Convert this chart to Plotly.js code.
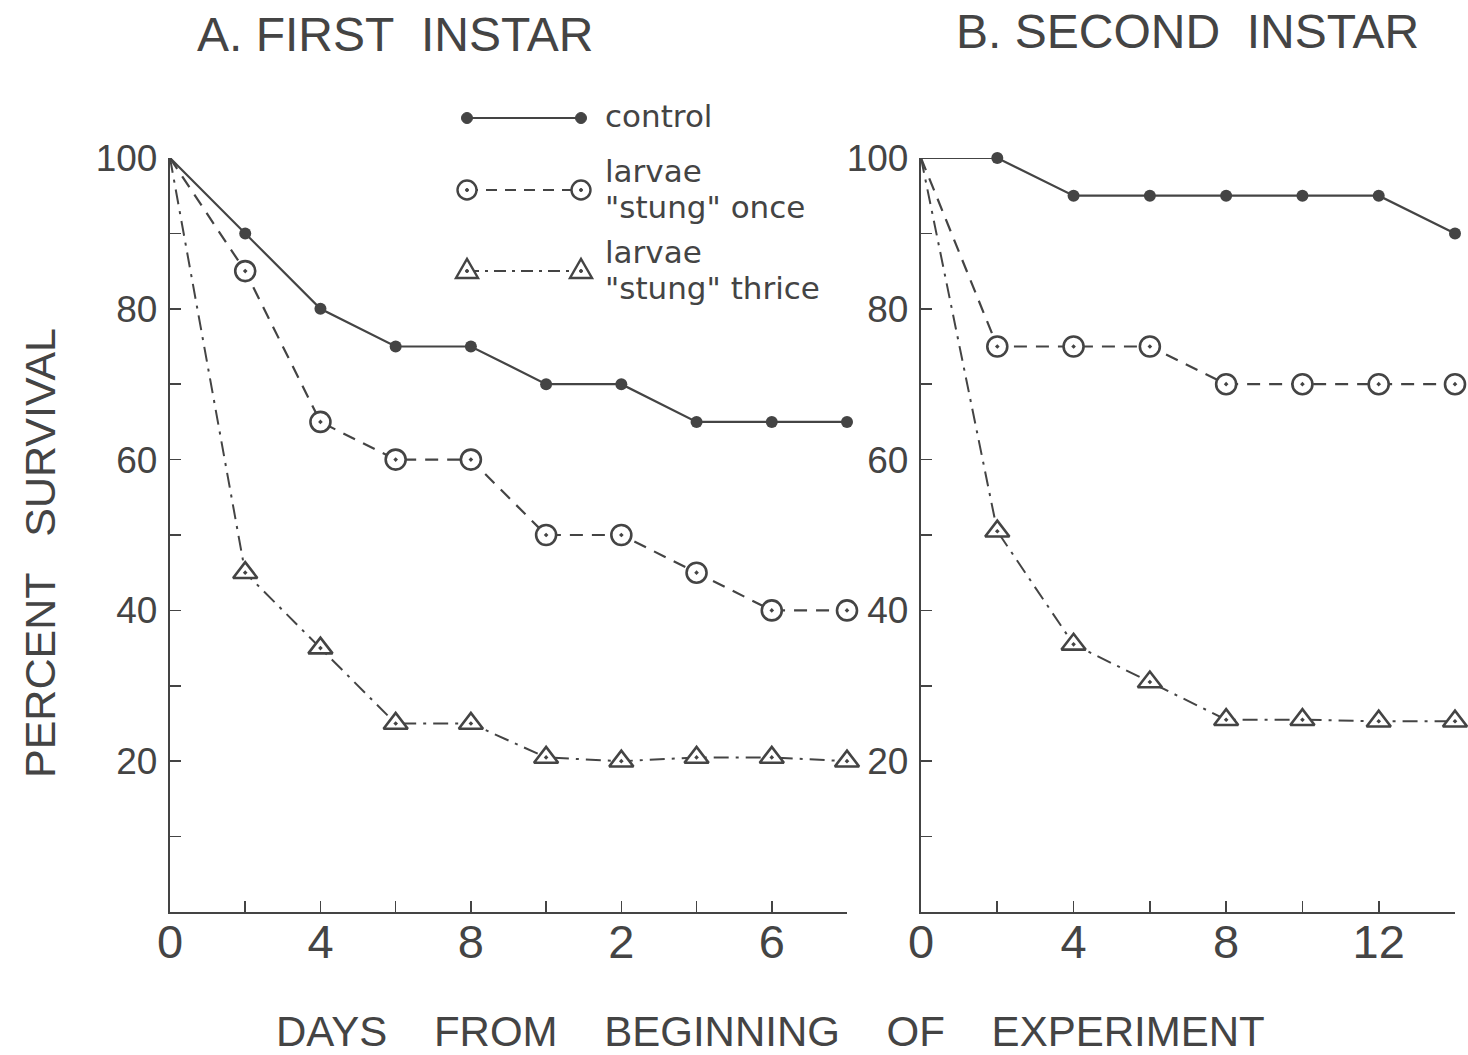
<!DOCTYPE html>
<html><head><meta charset="utf-8">
<script src="https://cdn.plot.ly/plotly-3.0.1.min.js"></script>
<style>html,body{margin:0;padding:0;background:#fff}#chart{width:1468px;height:1055px}</style>
</head><body><div id="chart"></div>
<script>
// ---- data ----
const daysA = [0, 2, 4, 6, 8, 10, 12, 14, 16, 18];
const controlA = [100, 90, 80, 75, 75, 70, 70, 65, 65, 65];
const onceA = [100, 85, 65, 60, 60, 50, 50, 45, 40, 40];
const thriceA = [100, 45, 35, 25, 25, 20.5, 20, 20.5, 20.5, 20];

const daysB = [0, 2, 4, 6, 8, 10, 12, 14];
const controlB = [100, 100, 95, 95, 95, 95, 95, 90];
const onceB = [100, 75, 75, 75, 70, 70, 70, 70];
const thriceB = [100, 50.5, 35.5, 30.5, 25.5, 25.5, 25.3, 25.3];

const xTickTextA = ['0', '', '4', '', '8', '', '2', '', '6', ''];
const xTickTextB = ['0', '', '4', '', '8', '', '12', ''];
const yTickVals = [0, 10, 20, 30, 40, 50, 60, 70, 80, 90, 100];
const yTickText = ['', '', '20', '', '40', '', '60', '', '80', '', '100'];

const seriesNames = ['control', 'larvae<br>"stung" once', 'larvae<br>"stung" thrice'];
const panelTitles = ['A. FIRST\u00a0\u00a0INSTAR', 'B. SECOND\u00a0\u00a0INSTAR'];
const xTitle = 'DAYS\u00a0\u00a0\u00a0\u00a0FROM\u00a0\u00a0\u00a0\u00a0BEGINNING\u00a0\u00a0\u00a0\u00a0OF\u00a0\u00a0\u00a0\u00a0EXPERIMENT';
const yTitle = 'PERCENT\u00a0\u00a0\u00a0SURVIVAL';

// ---- style ----
const INK = '#444444';
const FONT = 'Liberation Sans, Arial, sans-serif';
const LEGFONT = 'DejaVu Sans, Liberation Sans, sans-serif';
const W = 1468, H = 1055;
const px = v => v / W, py = v => 1 - v / H;

const lineStyles = [
  {color: INK, width: 2.2},
  {color: INK, width: 2.2, dash: '13px,9px'},
  {color: INK, width: 2, dash: '15px,7px,3px,7px'}
];
const markerStyles = [
  {symbol: 'circle', size: 12, color: INK, line: {color: INK, width: 0}},
  {symbol: 'circle-dot', size: 20, color: '#fff', line: {color: INK, width: 2.6}},
  {symbol: 'triangle-up-dot', size: 21, color: '#fff', line: {color: INK, width: 2.6}}
];

const traces = [];
[[controlA, onceA, thriceA], [controlB, onceB, thriceB]].forEach((set, p) => {
  const xs = p === 0 ? daysA : daysB;
  const xa = p === 0 ? 'x' : 'x2', ya = p === 0 ? 'y' : 'y2';
  set.forEach((ys, i) => {
    // connecting line through all points
    traces.push({type: 'scatter', mode: 'lines', x: xs, y: ys, name: seriesNames[i], showlegend: false,
      xaxis: xa, yaxis: ya, cliponaxis: false, line: lineStyles[i], hoverinfo: 'skip'});
    // point markers (none drawn at the common origin, as in the original)
    traces.push({type: 'scatter', mode: 'markers', x: xs.slice(1), y: ys.slice(1), name: seriesNames[i], showlegend: false,
      xaxis: xa, yaxis: ya, cliponaxis: false, marker: markerStyles[i], hoverinfo: 'x+y'});
  });
});

function xAxis(domain, maxX, ticktext, anchor) {
  const tickvals = [];
  for (let v = 0; v <= maxX; v += 2) tickvals.push(v);
  return {
    domain: domain, range: [0, maxX], anchor: anchor, tickmode: 'array', tickvals: tickvals, ticktext: ticktext,
    ticks: 'inside', ticklen: 11, tickwidth: 1.6, tickcolor: INK, showline: true, linewidth: 2.2, linecolor: INK,
    showgrid: false, zeroline: false, tickfont: {family: FONT, size: 47, color: INK}, ticklabelstandoff: -13, fixedrange: true
  };
}
function yAxis(anchor) {
  return {
    domain: [py(912), py(158)], range: [0, 100], anchor: anchor, tickmode: 'array', tickvals: yTickVals, ticktext: yTickText,
    ticks: 'inside', ticklen: 11, tickwidth: 1.6, tickcolor: INK, showline: true, linewidth: 2.2, linecolor: INK,
    showgrid: false, zeroline: false, tickfont: {family: FONT, size: 37, color: INK}, ticklabelstandoff: 3, fixedrange: true
  };
}

// legend glyphs (layout shapes in paper/pixel space)
const legendRows = [118, 190, 271];
const legX0 = 467, legX1 = 581;
const shapes = [];
const lineDash = ['solid', '11px,8px', '12px,6px,3px,6px'];
legendRows.forEach((yy, i) => {
  shapes.push({type: 'line', xref: 'paper', yref: 'paper', x0: px(legX0), x1: px(legX1), y0: py(yy), y1: py(yy), line: {color: INK, width: 2.2, dash: lineDash[i]}});
  [legX0, legX1].forEach(xx => {
    const base = {xref: 'paper', yref: 'paper', xsizemode: 'pixel', ysizemode: 'pixel', xanchor: px(xx), yanchor: py(yy)};
    if (i === 0) {
      shapes.push(Object.assign({type: 'circle', x0: -5.5, x1: 5.5, y0: -5.5, y1: 5.5, fillcolor: INK, line: {color: INK, width: 1}}, base));
    } else if (i === 1) {
      shapes.push(Object.assign({type: 'circle', x0: -9.5, x1: 9.5, y0: -9.5, y1: 9.5, fillcolor: '#fff', line: {color: INK, width: 2.4}}, base));
      shapes.push(Object.assign({type: 'circle', x0: -1.5, x1: 1.5, y0: -1.5, y1: 1.5, fillcolor: INK, line: {color: INK, width: 1}}, base));
    } else {
      shapes.push(Object.assign({type: 'path', path: 'M -11 -7 L 11 -7 L 0 12 Z', fillcolor: '#fff', line: {color: INK, width: 2.4}}, base));
      shapes.push(Object.assign({type: 'circle', x0: -1.5, x1: 1.5, y0: -1.5, y1: 1.5, fillcolor: INK, line: {color: INK, width: 1}}, base));
    }
  });
});

const annBase = {xref: 'paper', yref: 'paper', showarrow: false, xanchor: 'center', yanchor: 'middle'};
const annotations = [
  Object.assign({text: panelTitles[0], x: px(395), y: py(34), font: {family: FONT, size: 48, color: INK}}, annBase),
  Object.assign({text: panelTitles[1], x: px(1187), y: py(32), font: {family: FONT, size: 48, color: INK}}, annBase),
  Object.assign({text: xTitle, x: px(770), y: py(1031), font: {family: FONT, size: 42, color: INK}}, annBase),
  Object.assign({text: yTitle, x: px(40), y: py(553), textangle: -90, font: {family: FONT, size: 43, color: INK}}, annBase)
];
seriesNames.forEach((name, i) => {
  const lines = name.split('<br>');
  lines.forEach((ln, k) => {
    const yy = lines.length === 1 ? legendRows[i] - 2 : legendRows[i] - 19 + k * 36;
    annotations.push(Object.assign({}, annBase, {text: ln, x: px(603), y: py(yy), xanchor: 'left', align: 'left',
      font: {family: LEGFONT, size: 31, color: INK}}));
  });
});

const layout = {
  width: W, height: H, margin: {l: 0, r: 0, t: 0, b: 0}, paper_bgcolor: '#fff', plot_bgcolor: 'rgba(0,0,0,0)', showlegend: false,
  xaxis: xAxis([px(170), px(847)], 18, xTickTextA, 'y'),
  yaxis: yAxis('x'),
  xaxis2: xAxis([px(921), px(1455)], 14, xTickTextB, 'y2'),
  yaxis2: yAxis('x2'),
  shapes: shapes, annotations: annotations
};
Plotly.newPlot('chart', traces, layout, {displayModeBar: false, staticPlot: true});
</script>
</body></html>
